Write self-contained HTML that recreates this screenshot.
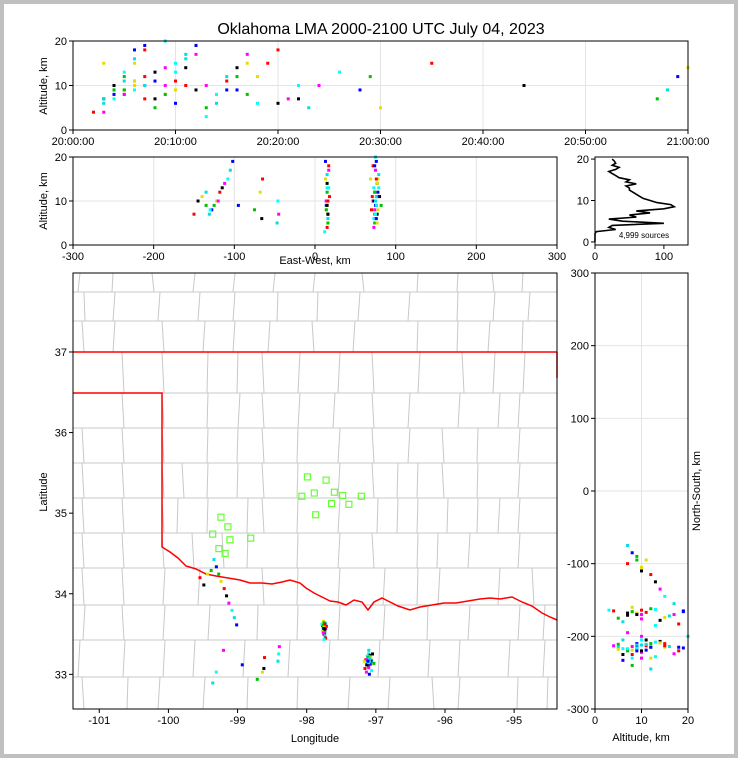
<!DOCTYPE html>
<html><head><meta charset="utf-8">
<style>
html,body{margin:0;padding:0;background:#c0c0c0;}
#wrap{position:absolute;left:4px;top:4px;width:730px;height:750px;background:#fff;}
svg{position:absolute;left:0;top:0;}
text{font-family:"Liberation Sans",sans-serif;fill:#000;}
</style></head>
<body>
<div id="wrap"></div>
<svg id="s" width="738" height="758"></svg>
<script>
// ---- data ----
// sources: time (min after 20:00), east-west km, north-south km, altitude km
const srcT  = [3,4,5,6,7,8,9,10,11,12,13,14,15,16,17,18,58,59,57,60,5,6,7,8,9,10,4,3,
  2,3,4,5,6,7,8,9,10,11,12,13,14,15,16,17,20,22,24,26,
  3,4,5,6,7,8,9,10,11,12,5,6,7,4,13,14,15,16,17,18,19,20,21,22,23,
  28,29,30,35,44,5,6,7,8,9,10,11,12,3,4,5,6,7,8,9,10];
const srcX  = [75,76,74,78,72,77,75,73,79,76,74,78,71,77,75,73,76,78,74,77,70,80,72,79,75,76,82,69,
  15,16,14,17,15,13,16,14,18,15,17,12,16,14,15,13,17,16,14,15,
  -131,-128,-125,-122,-118,-115,-112,-108,-105,-102,-135,-140,-150,-145,-120,-130,-135,-95,-75,-68,-65,-66,-45,-46,-47,
  75,74,77,76,73,74,76,75,77,14,15,16,15,73,75,76,74];
const srcY  = [-205,-210,-215,-212,-220,-218,-222,-208,-214,-216,-211,-219,-213,-207,-224,-217,-212,-215,-220,-209,-225,-205,-230,-228,-200,-233,-218,-215,
  -165,-168,-170,-163,-172,-166,-175,-160,-167,-178,-170,-164,-180,-169,-162,-174,-183,-171,-176,-185,
  -75,-85,-95,-105,-115,-125,-135,-145,-155,-165,-90,-95,-100,-110,-200,-230,-245,-220,-240,-230,-210,-225,-195,-205,-215,
  -215,-210,-218,-213,-220,-214,-216,-212,-219,-166,-168,-164,-170,-213,-217,-211,-215];
const srcA  = [6,9,12,15,18,7,10,13,16,19,5,8,11,14,17,6,9,12,7,14,8,11,10,13,20,6,9,15,
  4,7,10,13,16,19,5,8,11,14,17,3,6,9,12,15,18,7,10,13,
  7,8,9,10,12,13,14,15,17,19,9,11,7,10,10,8,12,9,8,12,15,6,7,10,5,
  9,12,5,15,10,8,9,10,11,8,9,10,9,4,7,11,18];
// stations (lon, lat)
const stLon = [-97.99,-97.72,-98.07,-97.89,-97.21,-97.64,-97.39,-97.87,-99.24,-99.36,-99.14,-99.11,-98.81,-99.27,-99.18,-97.6,-97.48];
const stLat = [35.45,35.41,35.21,35.25,35.21,35.12,35.11,34.98,34.95,34.74,34.83,34.67,34.69,34.56,34.5,35.26,35.22];
// altitude histogram
const histAlt = [0,1,2,2.5,3,3.5,4,4.5,5,5.5,6,6.5,7,7.5,8,8.5,9,9.5,10,10.5,11,11.5,12,12.5,13,13.5,14,14.5,15,15.5,16,16.5,17,17.5,18,18.5,19,19.5,20];
const histCnt = [0,0,0,2,30,20,25,100,40,20,60,50,80,60,100,115,110,90,80,70,65,60,55,50,50,45,60,45,50,35,30,25,20,30,35,25,30,28,25];
const timeTicks = ["20:00:00","20:10:00","20:20:00","20:30:00","20:40:00","20:50:00","21:00:00"];
const ewTicks = [-300,-200,-100,0,100,200,300];
const lonTicks = [-101,-100,-99,-98,-97,-96,-95];
const latTicks = [33,34,35,36,37];
const nsTicks = [-300,-200,-100,0,100,200,300];

const S=document.getElementById('s');const NS='http://www.w3.org/2000/svg';
function el(tag,at,txt){const e=document.createElementNS(NS,tag);for(const k in at)e.setAttribute(k,at[k]);if(txt!==undefined)e.textContent=txt;S.appendChild(e);return e;}
function lin(d0,d1,r0,r1){return v=>r0+(v-d0)*(r1-r0)/(d1-d0);}
const cols=['#00e0e0','#0000ff','#00c000','#e0e000','#ff0000','#000000','#ff00ff','#00ffff'];

const tX=lin(0,60,73,688), aY1=lin(0,20,130,41);
const eX=lin(-300,300,73,557), aY2=lin(0,20,245,157);
const hX=lin(0,135,595,688), hY=lin(-0.5,20.5,244,157);
const lonX=lin(-101.38,-94.38,73,557), latY=lin(32.57,37.98,709,273);
const rX=lin(0,20,595,688), rY=lin(-300,300,709,273);
function lonOf(x,y){const lat=35.1+y/111;return -97.91+x/(111*Math.cos(lat*Math.PI/180));}
function latOf(y){return 35.1+y/111;}
const N=Math.min(srcT.length,srcX.length,srcY.length,srcA.length);

function frame(x0,y0,x1,y1,name){const r=el('rect',{x:x0,y:y0,width:x1-x0,height:y1-y0,fill:'none',stroke:'#000','stroke-width':1});}
function tickX(x,y,lab,name){el('line',{x1:x,y1:y,x2:x,y2:y+4,stroke:'#000'});const t=el('text',{x:x,y:y+15,'font-size':11,'text-anchor':'middle'},lab);}
function tickY(x,y,lab,name){el('line',{x1:x-4,y1:y,x2:x,y2:y,stroke:'#000'});const t=el('text',{x:x-6,y:y+4,'font-size':11,'text-anchor':'end'},lab);}
function grid(x1,y1,x2,y2){el('line',{x1,y1,x2,y2,stroke:'#e4e4e4','stroke-width':1});}
function dot(x,y,c){if(!isFinite(x)||!isFinite(y))return;const r=el('rect',{x:x-1.5,y:y-1.5,width:3,height:3,fill:c});}

const ti=el('text',{x:381,y:34,'font-size':16,'text-anchor':'middle'},'Oklahoma LMA 2000-2100 UTC July 04, 2023');


// ---- panel 1 ----
timeTicks.forEach((l,i)=>{grid(tX(i*10),41,tX(i*10),130);tickX(tX(i*10),130,l,'time-tick-label');});
[0,10,20].forEach(v=>{grid(73,aY1(v),688,aY1(v));tickY(73,aY1(v),v,'alt-tick-label');});
for(let i=0;i<N;i++)dot(tX(srcT[i]),aY1(srcA[i]),cols[i%8]);
frame(73,41,688,130,'time-height-panel');
let yl=el('text',{x:47,y:86,'font-size':11,'text-anchor':'middle',transform:'rotate(-90 47 86)'},'Altitude, km');


// ---- panel 2 ----
ewTicks.forEach(v=>{grid(eX(v),157,eX(v),245);tickX(eX(v),245,v,'ew-tick-label');});
[0,10,20].forEach(v=>{grid(73,aY2(v),557,aY2(v));tickY(73,aY2(v),v,'alt-tick-label');});
for(let i=0;i<N;i++)dot(eX(srcX[i]),aY2(srcA[i]),cols[i%8]);
frame(73,157,557,245,'ew-height-panel');
yl=el('text',{x:47,y:201,'font-size':11,'text-anchor':'middle',transform:'rotate(-90 47 201)'},'Altitude, km');

let xl=el('text',{x:315,y:264,'font-size':11,'text-anchor':'middle'},'East-West, km');


// ---- histogram ----
[0,100].forEach(v=>tickX(hX(v),245,v,'count-tick-label'));
[0,10,20].forEach(v=>tickY(595,hY(v),v,'alt-tick-label'));
let pd='';histAlt.forEach((a,i)=>{pd+=(i?'L':'M')+hX(histCnt[i]).toFixed(1)+','+hY(a).toFixed(1);});
const hp=el('path',{d:pd,fill:'none',stroke:'#000','stroke-width':1.6});

const sc=el('text',{x:644,y:238,'font-size':8,'text-anchor':'middle'},'4,999 sources');

frame(595,157,688,245,'altitude-histogram-panel');

// ---- map ----
const cg=[
 [273,292,[80,113,152,195,235,275,315,362,418,458,492,523]],
 [292,321,[84,115,160,200,235,278,318,360,410,458,495,530]],
 [321,352,[82,115,162,205,235,270,312,355,418,458,490,523]],
 [352,393,[122,162,208,238,262,300,340,372,420,462,495,525]],
 [393,428,[122,162,208,240,262,300,335,372,410,460,500,520]],
 [428,463,[82,122,162,208,238,262,298,340,372,410,442,478,520]],
 [463,498,[82,122,162,182,208,238,262,298,340,372,398,418,442,478,520]],
 [498,533,[82,122,162,178,208,248,262,298,340,378,398,418,448,478,500,520]],
 [533,568,[82,122,162,192,222,248,298,340,372,418,438,470,520]],
 [568,605,[82,122,165,200,262,298,340,385,418,440,500,532]],
 [605,640,[85,122,165,210,258,298,340,385,428,470,520,545]],
 [640,677,[80,125,165,195,245,290,330,380,430,460,510,545]],
 [677,709,[82,128,160,205,248,298,350,390,432,460,518,548]]];
cg.forEach(r=>{el('line',{x1:73,y1:r[0],x2:557,y2:r[0],stroke:'#c8c8c8','stroke-width':1});r[2].forEach(x=>el('line',{x1:x,y1:r[0],x2:x+((x*7)%5-2),y2:r[1],stroke:'#c8c8c8','stroke-width':1}));});
const river='162,547 170,552 178,558 186,566 196,569 206,574 216,576 228,578 240,580 250,583 262,583 272,584 282,582 290,580 300,583 306,588 314,593 322,597 330,601 338,602 346,605 354,600 362,602 368,610 374,602 382,598 390,602 398,606 410,610 420,607 432,605 444,603 456,603 468,601 480,599 490,598 500,599 512,597 522,602 532,606 542,613 550,617 557,620';
const ok=el('polyline',{points:'73,352 557,352',fill:'none',stroke:'#f00','stroke-width':1.5});

const pan=el('polyline',{points:'73,393 162,393 162,547 '+river,fill:'none',stroke:'#f00','stroke-width':1.5});

el('line',{x1:557,y1:352,x2:557,y2:378,stroke:'#f00','stroke-width':1.5});
for(let i=0;i<N;i++)dot(lonX(lonOf(srcX[i],srcY[i])),latY(latOf(srcY[i])),cols[i%8]);
stLon.forEach((lo,i)=>{const r=el('rect',{x:lonX(lo)-3,y:latY(stLat[i])-3,width:6,height:6,fill:'none',stroke:'#66ff33','stroke-width':1.2});});
lonTicks.forEach(v=>tickX(lonX(v),709,v,'lon-tick-label'));
latTicks.forEach(v=>tickY(73,latY(v),v,'lat-tick-label'));
frame(73,273,557,709,'map-panel');
yl=el('text',{x:47,y:492,'font-size':11,'text-anchor':'middle',transform:'rotate(-90 47 492)'},'Latitude');

xl=el('text',{x:315,y:742,'font-size':11,'text-anchor':'middle'},'Longitude');


// ---- right panel ----
[0,10,20].forEach(v=>{grid(rX(v),273,rX(v),709);tickX(rX(v),709,v,'alt-tick-label');});
nsTicks.forEach(v=>{grid(595,rY(v),688,rY(v));tickY(595,rY(v),v,'ns-tick-label');});
for(let i=0;i<N;i++)dot(rX(srcA[i]),rY(srcY[i]),cols[i%8]);
frame(595,273,688,709,'ns-height-panel');
yl=el('text',{x:700,y:491,'font-size':11,'text-anchor':'middle',transform:'rotate(-90 700 491)'},'North-South, km');

xl=el('text',{x:641,y:741,'font-size':11,'text-anchor':'middle'},'Altitude, km');

</script>
</body></html>
